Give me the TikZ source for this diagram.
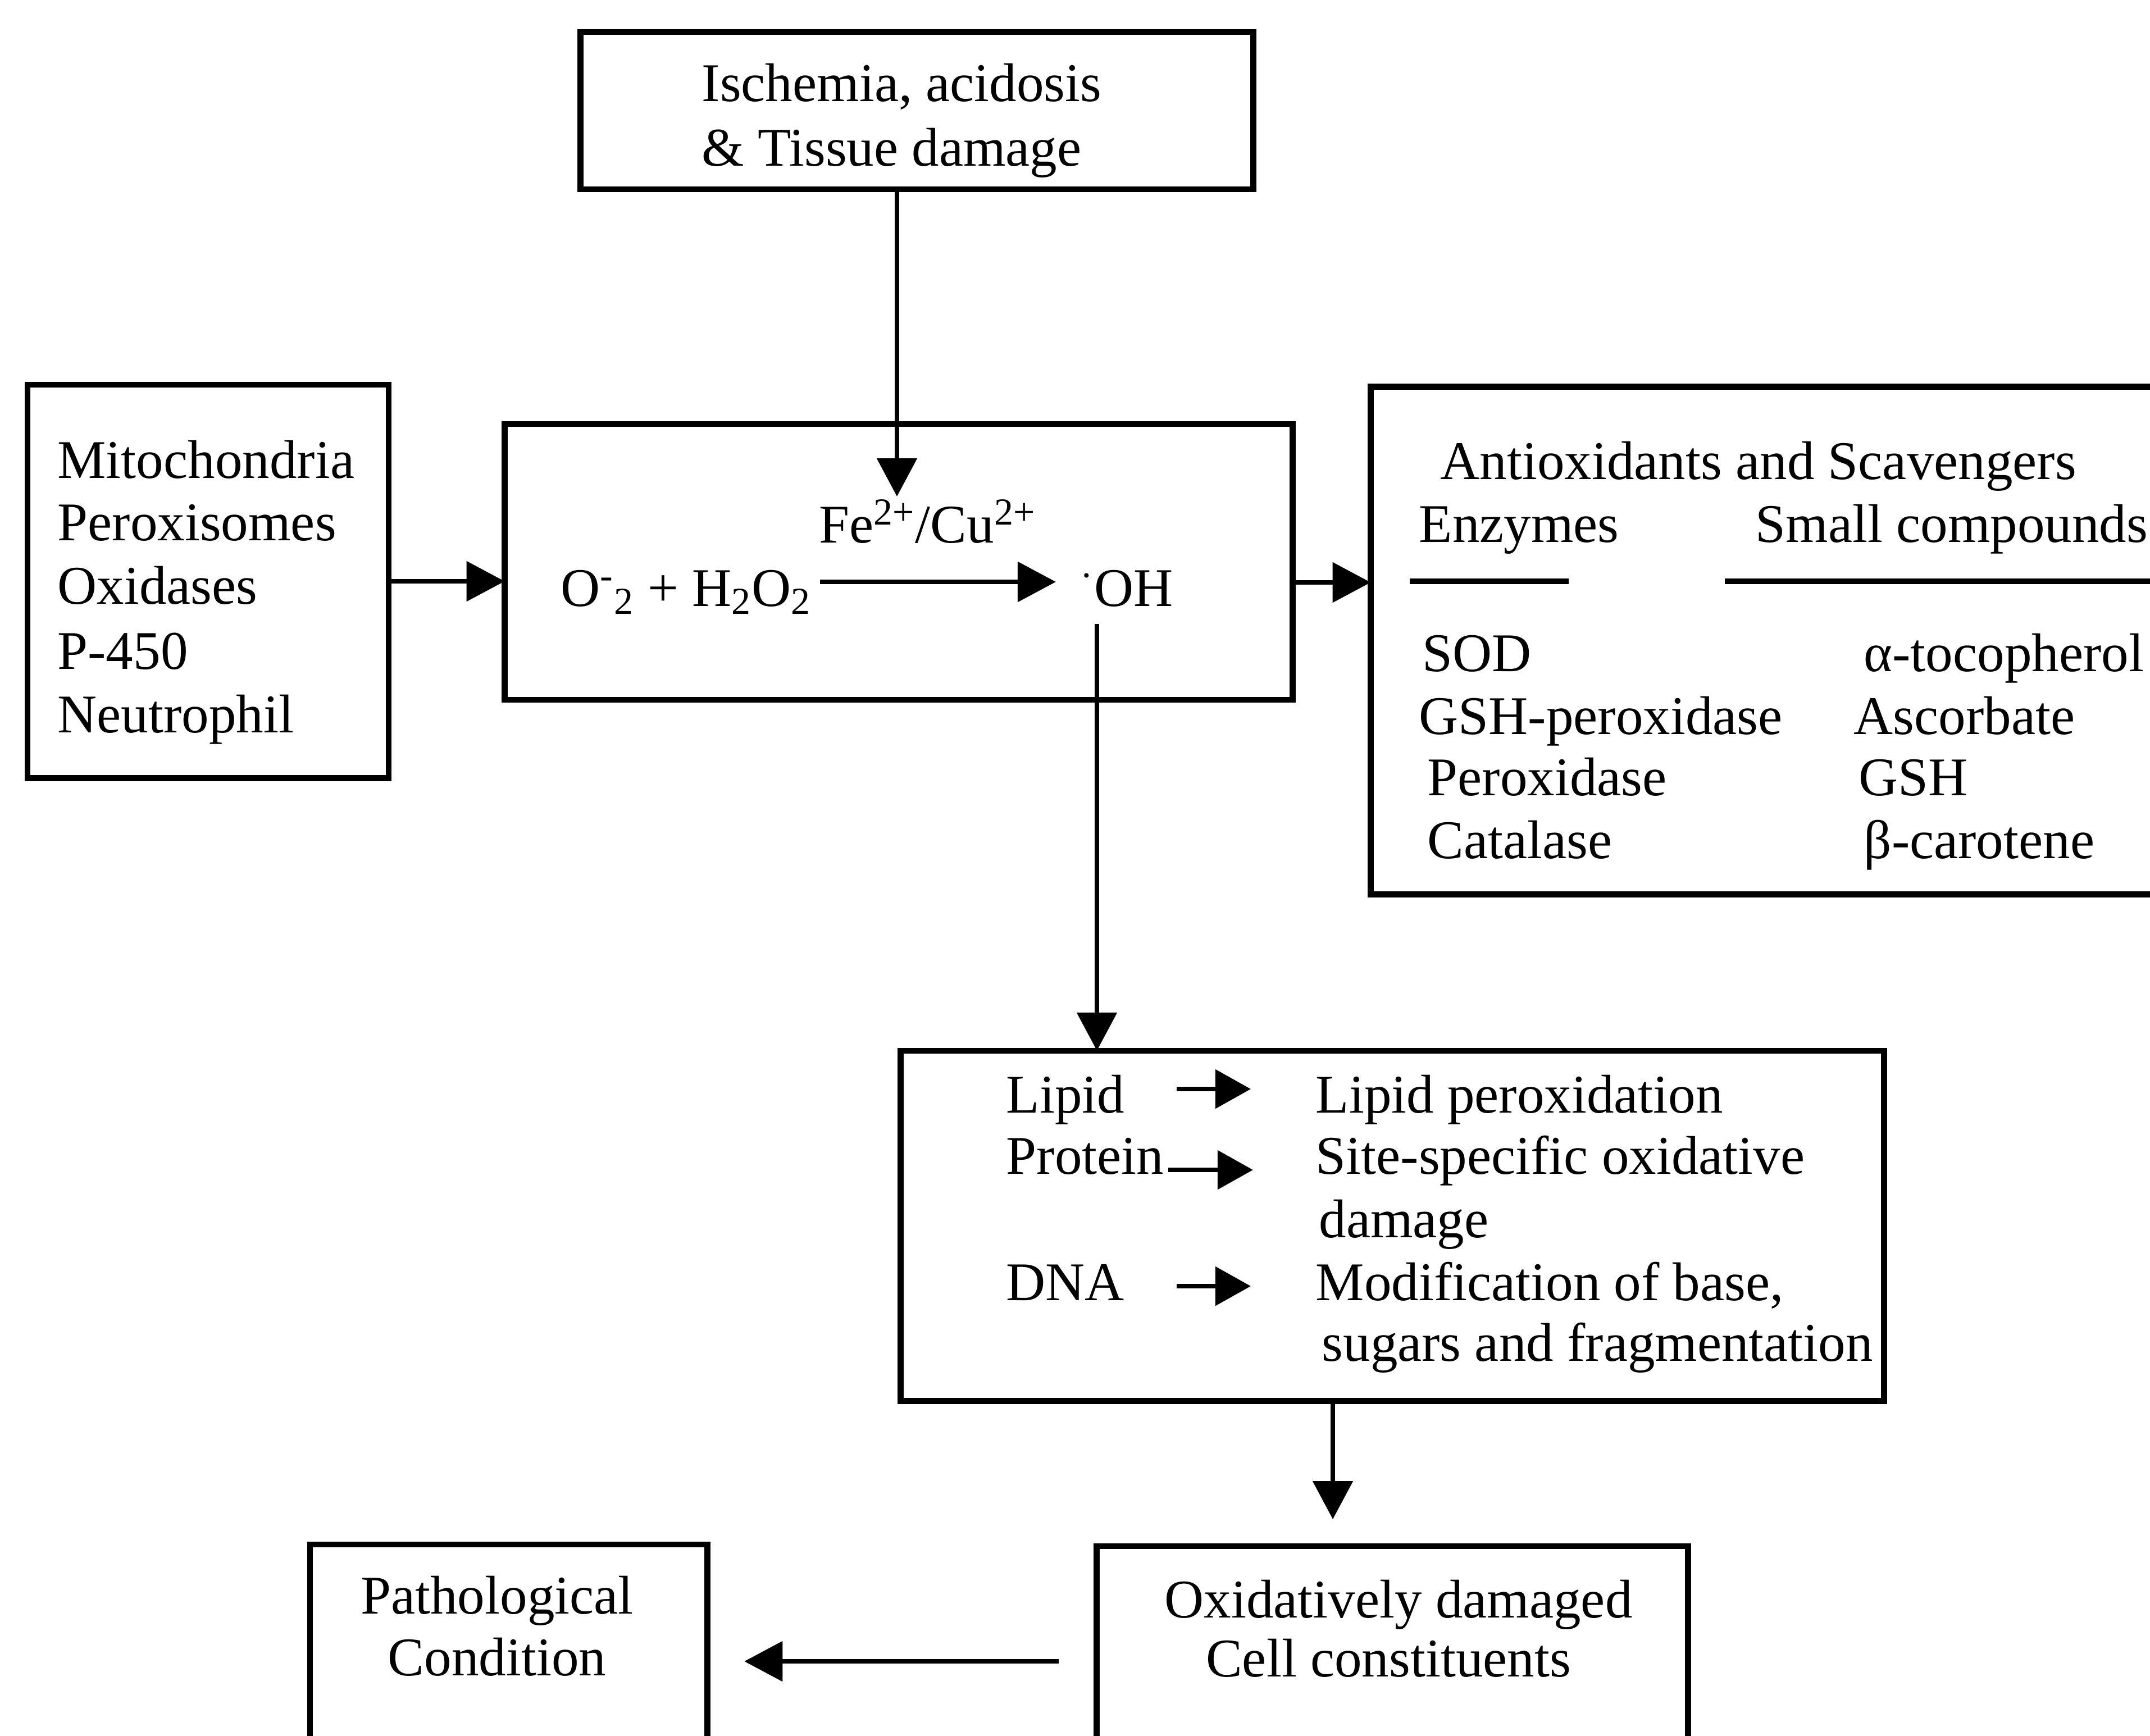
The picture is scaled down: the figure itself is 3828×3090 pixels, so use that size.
\documentclass[tikz,border=0pt]{standalone}
\usepackage{fontspec}
\setmainfont{Liberation Serif}
\usetikzlibrary{arrows.meta}
\newcommand{\dfont}{\fontsize{27.6pt}{31.6pt}\selectfont}
\begin{document}
\begin{tikzpicture}[x=0.01cm, y=-0.01cm,
  box/.style={draw, line width=3pt, inner sep=0pt, outer sep=0pt},
  arr/.style={line width=2.5pt, -{Triangle[length=0.68cm, width=0.70cm]}},
  sarr/.style={line width=2.5pt, -{Triangle[length=0.63cm, width=0.68cm]}},
  rule/.style={line width=3pt},
  txt/.style={anchor=base west, inner sep=0pt, font=\dfont},
  ctxt/.style={anchor=base, inner sep=0pt, font=\dfont}]
\useasboundingbox (0,0) rectangle (3828,3090);
\clip (0,0) rectangle (3828,3090);
\fill[white] (0,0) rectangle (3828,3090);

% boxes
\node[box, minimum width=11.97cm, minimum height=2.80cm] (top) at (1632.5,197) {};
\node[box, minimum width=6.43cm, minimum height=7.00cm] (left) at (370.5,1035) {};
\node[box, minimum width=14.02cm, minimum height=4.91cm] (mid) at (1600,1000.5) {};
\node[box, minimum width=14.59cm, minimum height=9.03cm] (right) at (3170.5,1140.5) {};
\node[box, minimum width=17.50cm, minimum height=6.23cm] (lipid) at (2479,2182.5) {};
\node[box, minimum width=10.52cm, minimum height=4.47cm] (oxid) at (2479,2976.5) {};
\node[box, minimum width=7.07cm, minimum height=4.50cm] (path) at (905.5,2975) {};

% top box text
\node[txt] (t1) at (1249,180) {Ischemia, acidosis};
\node[txt] (t2) at (1249,295) {\& Tissue damage};

% left box text
\node[txt] (l1) at (102,851) {Mitochondria};
\node[txt] (l2) at (102,962) {Peroxisomes};
\node[txt] (l3) at (102,1075) {Oxidases};
\node[txt] (l4) at (102,1191) {P-450};
\node[txt] (l5) at (102,1304) {Neutrophil};

% middle box text
\node[txt] (reac) at (998,1079) {O\textsuperscript{-}\textsubscript{2} + H\textsubscript{2}O\textsubscript{2}};
\node[txt] (cat) at (1458,966) {Fe\textsuperscript{2+}/Cu\textsuperscript{2+}};
\node[txt] (oh) at (1923,1079) {\textsuperscript{·}OH};

% right box text
\node[txt] (r0) at (2564,853) {Antioxidants and Scavengers};
\node[txt] (enz) at (2526,965) {Enzymes};
\node[txt] (sc) at (3125,965) {Small compounds};
\draw[rule] (2510,1035) -- (2793,1035);
\draw[rule] (3071,1035) -- (3900,1035);
\node[txt] (e1) at (2532,1195) {SOD};
\node[txt] (e2) at (2526,1307) {GSH-peroxidase};
\node[txt] (e3) at (2541,1416) {Peroxidase};
\node[txt] (e4) at (2541,1528) {Catalase};
\node[txt] (s1) at (3318,1195) {α-tocopherol};
\node[txt] (s2) at (3300,1307) {Ascorbate};
\node[txt] (s3) at (3309,1416) {GSH};
\node[txt] (s4) at (3318,1528) {β-carotene};

% lipid box text
\node[txt] (a1) at (1791,1981) {Lipid};
\node[txt] (a2) at (1791,2090) {Protein};
\node[txt] (a3) at (1791,2315) {DNA};
\node[txt] (b1) at (2342,1981) {Lipid peroxidation};
\node[txt] (b2) at (2342,2090) {Site-specific oxidative};
\node[txt] (b3) at (2348,2203) {damage};
\node[txt] (b4) at (2342,2315) {Modification of base,};
\node[txt] (b5) at (2353,2423) {sugars and fragmentation};

% bottom boxes text
\node[ctxt] (p1) at (885,2873) {Pathological};
\node[ctxt] (p2) at (885,2983) {Condition};
\node[ctxt] (o1) at (2490,2880) {Oxidatively damaged};
\node[ctxt] (o2) at (2472,2985) {Cell constituents};

% coordinates
\coordinate (fein) at (1597,884);
\coordinate (ay) at (0,1037);
\coordinate (rx1) at (1460,1036);
\coordinate (rx2) at (1880,1036);
\coordinate (ohdown) at (1953,1111);
\coordinate (ldown) at (2373,2705);
\coordinate (by) at (0,2958);
\coordinate (la1) at (2095,1939);
\coordinate (la2) at (2227,1939);
\coordinate (pa1) at (2080,2083);
\coordinate (pa2) at (2231,2083);
\coordinate (da1) at (2095,2290);
\coordinate (da2) at (2227,2290);

% connectors
\draw[arr] (top.south -| fein) -- (fein);
\draw[arr] (left.east) -- (left.east -| mid.west);
\draw[arr] (mid.east |- ay) -- (right.west |- ay);
\draw[arr] (rx1) -- (rx2);
\draw[arr] (ohdown) -- (lipid.north -| ohdown);
\draw[arr] (lipid.south -| ldown) -- (ldown);
\draw[arr, shorten <=0.68cm, shorten >=0.66cm] (oxid.west |- by) -- (path.east |- by);
\draw[sarr] (la1) -- (la2);
\draw[sarr] (pa1) -- (pa2);
\draw[sarr] (da1) -- (da2);
\end{tikzpicture}
\end{document}
